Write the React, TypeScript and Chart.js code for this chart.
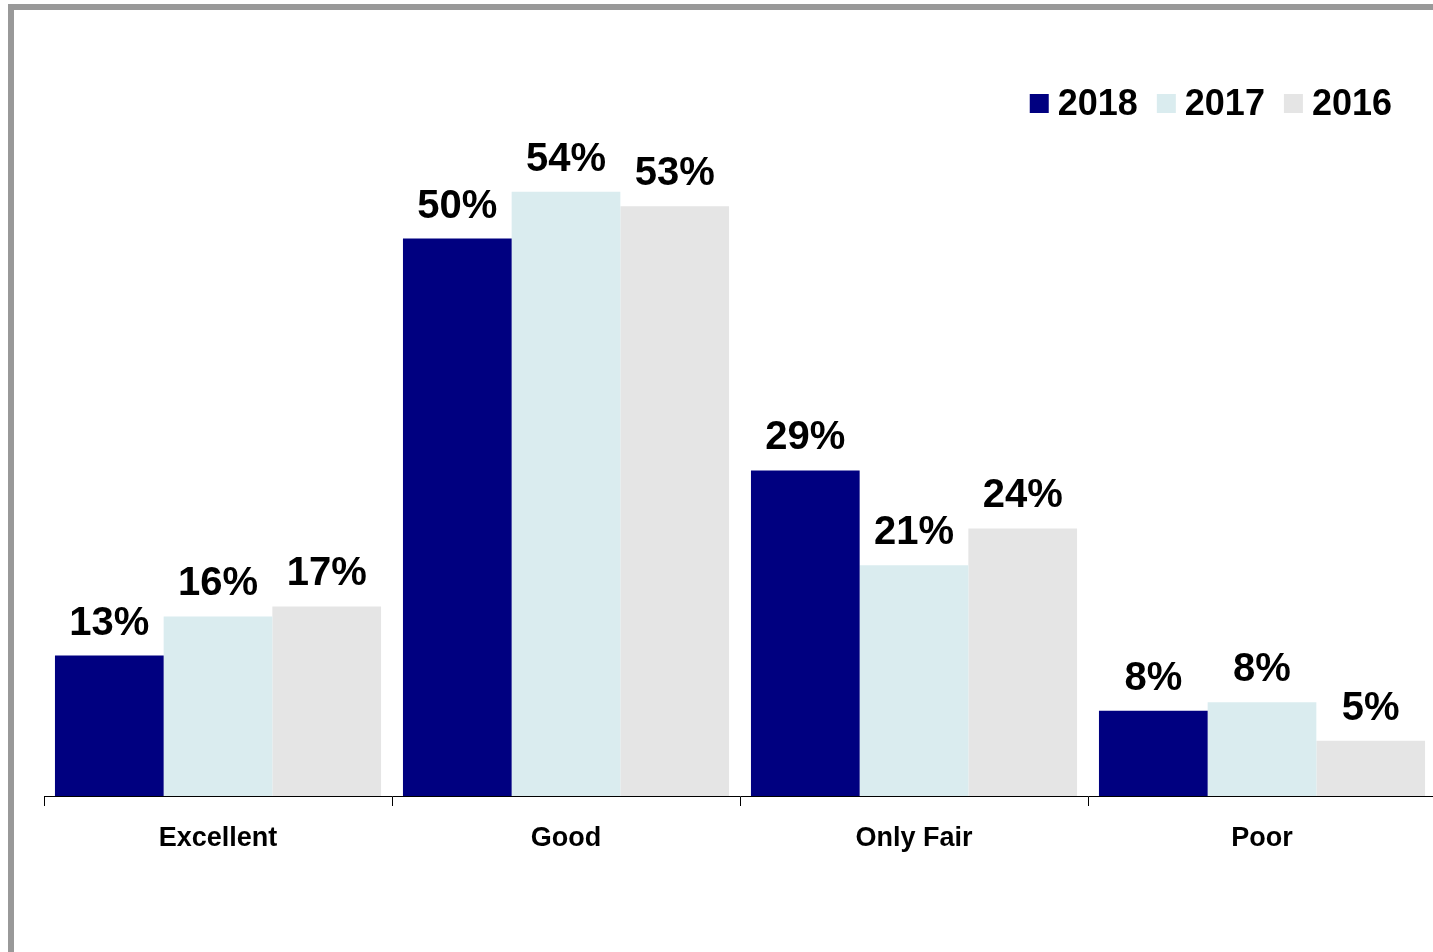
import React, { useEffect, useRef } from "react";
import { Chart, registerables } from "chart.js";

Chart.register(...registerables);

const categories = ["Excellent", "Good", "Only Fair", "Poor"];
const seriesNames = ["2018", "2017", "2016"];
const values2018 = [12.6, 50.0, 29.2, 7.65];
const values2017 = [16.1, 54.2, 20.7, 8.4];
const values2016 = [17.0, 52.9, 24.0, 4.96];
const seriesColors = ["#000080", "#DAECEF", "#E5E5E5"];
const yMin = 0;
const yMax = 60;

const FONT = "'Liberation Sans', Arial, sans-serif";

const valueLabelPlugin = {
  id: "valueLabels",
  afterDatasetsDraw(chart: any) {
    const ctx = chart.ctx;
    ctx.save();
    ctx.font = `bold 40px ${FONT}`;
    ctx.fillStyle = "#000";
    ctx.textAlign = "center";
    ctx.textBaseline = "alphabetic";
    chart.data.datasets.forEach((ds: any, di: number) => {
      const meta = chart.getDatasetMeta(di);
      meta.data.forEach((bar: any, i: number) => {
        const v = ds.data[i];
        ctx.fillText(`${Math.round(v)}%`, bar.x, bar.y - 21);
      });
    });
    ctx.restore();
  },
};

const legendPlugin = {
  id: "customLegend",
  afterDraw(chart: any) {
    const ctx = chart.ctx;
    ctx.save();
    ctx.font = `bold 36px ${FONT}`;
    ctx.textBaseline = "alphabetic";
    ctx.textAlign = "left";
    const box = 19;
    const gapText = 9;
    const gapItem = 19;
    const items = chart.data.datasets.map((ds: any) => ({
      label: ds.label,
      color: ds.backgroundColor,
      w: ctx.measureText(ds.label).width,
    }));
    const total = items.reduce((s: number, it: any) => s + box + gapText + it.w, 0) + gapItem * (items.length - 1);
    let x = chart.chartArea.right - 44 - total;
    const boxTop = 84;
    const baseY = 105;
    items.forEach((it: any) => {
      ctx.fillStyle = it.color;
      ctx.fillRect(x, boxTop, box, box);
      ctx.fillStyle = "#000";
      ctx.fillText(it.label, x + box + gapText, baseY);
      x += box + gapText + it.w + gapItem;
    });
    ctx.restore();
  },
};

export default function App() {
  const ref = useRef<HTMLCanvasElement | null>(null);

  useEffect(() => {
    if (!ref.current) return;
    const seriesValues = [values2018, values2017, values2016];
    const chart = new Chart(ref.current, {
      type: "bar",
      data: {
        labels: categories,
        datasets: seriesNames.map((name, i) => ({
          label: name,
          data: seriesValues[i],
          backgroundColor: seriesColors[i],
          borderWidth: 0,
          categoryPercentage: 0.937,
          barPercentage: 1.0,
        })),
      },
      options: {
        responsive: false,
        devicePixelRatio: 1,
        animation: false,
        layout: { padding: { left: 30, right: 8, top: 117, bottom: 81.6 } },
        plugins: {
          legend: { display: false },
          tooltip: { enabled: false },
          title: { display: false },
        },
        scales: {
          x: {
            grid: {
              display: true,
              drawOnChartArea: false,
              drawTicks: true,
              tickLength: 10,
              color: "#000",
              lineWidth: 1,
              offset: true,
            },
            border: { display: true, color: "#000", width: 1 },
            ticks: {
              color: "#000",
              font: { family: FONT, size: 27, weight: "bold" },
              padding: 16,
              maxRotation: 0,
              autoSkip: false,
            },
          },
          y: {
            display: false,
            min: yMin,
            max: yMax,
          },
        },
      },
      plugins: [valueLabelPlugin, legendPlugin],
    });
    return () => chart.destroy();
  }, []);

  return (
    <div
      style={{
        position: "fixed",
        left: 8,
        top: 4,
        width: 1425,
        height: 948,
        boxSizing: "border-box",
        borderLeft: "6px solid #999999",
        borderTop: "6px solid #999999",
        overflow: "hidden",
        background: "#fff",
      }}
    >
      <canvas
        ref={ref}
        width={1430}
        height={942}
        style={{ position: "absolute", left: 0, top: 0, width: 1430, height: 942 }}
      />
    </div>
  );
}
